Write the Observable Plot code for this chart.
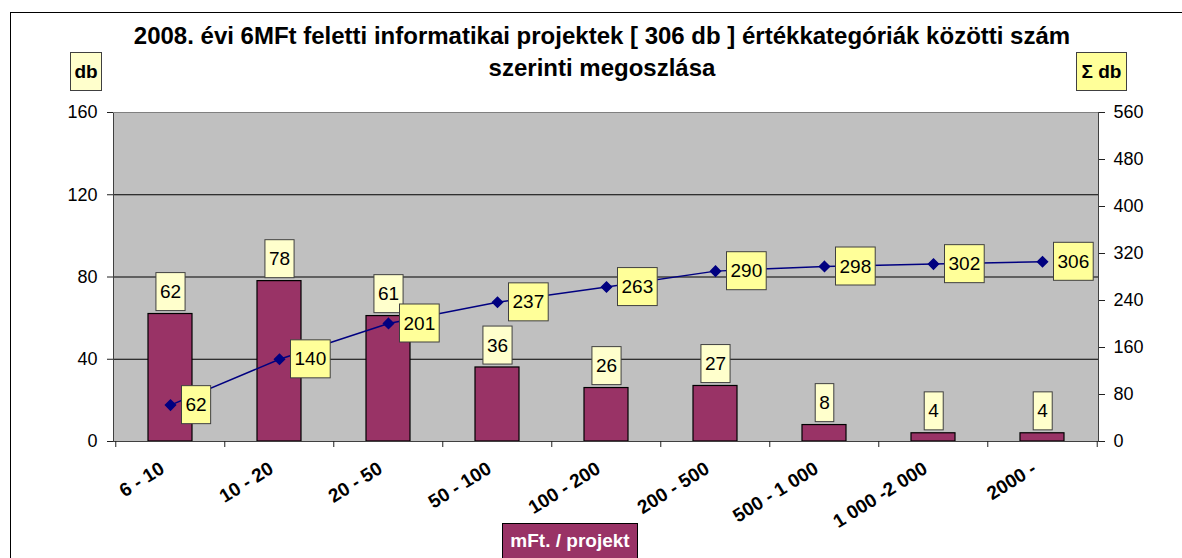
<!DOCTYPE html>
<html>
<head>
<meta charset="utf-8">
<script src="https://cdn.jsdelivr.net/npm/d3@7"></script>
<script src="https://cdn.jsdelivr.net/npm/@observablehq/plot@0.6"></script>
<style>
  html, body { margin: 0; padding: 0; background: #fff; }
  #wrap { position: relative; width: 1182px; height: 558px; overflow: hidden; font-family: "Liberation Sans", Arial, sans-serif; }
  #outer { position: absolute; left: 10px; top: 12px; width: 1300px; height: 700px; border-left: 1px solid #000; border-top: 1px solid #000; }
  #title { position: absolute; left: 0; width: 1204px; top: 20px; text-align: center; font-weight: bold; font-size: 24px; line-height: 32px; color: #000; }
  .box { position: absolute; box-sizing: border-box; border: 1px solid #404040; font-weight: bold; font-size: 19px; display: flex; align-items: center; justify-content: center; }
  #plot { position: absolute; left: 0; top: 0; }
</style>
</head>
<body>
<div id="wrap">
  <div id="outer"></div>
  <div id="plot"></div>
  <div id="title">2008. évi 6MFt feletti informatikai projektek [ 306 db ] értékkategóriák közötti szám<br>szerinti megoszlása</div>
  <div class="box" style="left:70px;top:52px;width:32px;height:39px;background:#FFFFCC;">db</div>
  <div class="box" style="left:1076px;top:52px;width:51px;height:39px;background:#FFFF99;">Σ db</div>
  <div class="box" style="left:502px;top:523px;width:136px;height:40px;background:#993366;color:#fff;border-color:#000;padding-bottom:4px;">mFt. / projekt</div>
</div>
<script>
const categories = ["6 - 10", "10 - 20", "20 - 50", "50 - 100", "100 - 200", "200 - 500", "500 - 1 000", "1 000 -2 000", "2000 -"];
const counts = [62, 78, 61, 36, 26, 27, 8, 4, 4];
const cumulative = [62, 140, 201, 237, 263, 290, 298, 302, 306];
const leftTicks = [0, 40, 80, 120, 160];
const rightTicks = [0, 80, 160, 240, 320, 400, 480, 560];

const leftMax = 160, rightMax = 560;
const k = leftMax / rightMax;
const data = categories.map((c, i) => ({cat: c, n: counts[i], cum: cumulative[i], cumY: cumulative[i] * k}));

const W = 1182, H = 558, ML = 113, MR = 84, MT = 112, MB = 117;
const step = (W - ML - MR) / categories.length;
const font = "Liberation Sans, Arial, sans-serif";

const chart = Plot.plot({
  width: W, height: H,
  marginLeft: ML, marginRight: MR, marginTop: MT, marginBottom: MB,
  style: {fontFamily: font, fontSize: "18px", background: "transparent", overflow: "visible"},
  x: {domain: categories, paddingInner: 0.6, paddingOuter: 0.3, axis: null},
  y: {domain: [0, leftMax], axis: null},
  marks: [
    Plot.frame({fill: "#C0C0C0"}),
    Plot.ruleY([40, 80, 120], {stroke: "#000", strokeWidth: 1}),
    Plot.barY(data, {x: "cat", y: "n", fill: "#993366", stroke: "#000", strokeWidth: 1.2}),
    Plot.text(data, {x: "cat", y: "n", text: d => String(d.n), dy: -22, lineAnchor: "middle", fontSize: 19, fill: "#000", className: "lblbar"}),
    Plot.line(data, {x: "cat", y: "cumY", stroke: "#000080", strokeWidth: 1.5}),
    Plot.dot(data, {x: "cat", y: "cumY", symbol: "diamond2", r: 4.5, fill: "#000080", stroke: "#000080"}),
    Plot.text(data, {x: "cat", y: "cumY", text: d => String(d.cum), dx: 15, textAnchor: "start", lineAnchor: "middle", fontSize: 19, fill: "#000", className: "lblcum"}),
    Plot.ruleY([0], {stroke: "#202020", strokeWidth: 1.2}),
    Plot.frame({stroke: "#404040", strokeWidth: 1, fill: "none"}),
    Plot.ruleY([leftMax], {stroke: "#808080", strokeWidth: 1}),
    Plot.axisY({anchor: "left", ticks: leftTicks, tickSize: 6, tickPadding: 10, fontSize: 18, label: null, stroke: "#202020"}),
    Plot.axisY({anchor: "right", ticks: rightTicks.map(v => v * k), tickFormat: v => String(Math.round(v / k)), tickSize: 6, tickPadding: 9, fontSize: 18, label: null, stroke: "#202020"}),
    Plot.axisX({ticks: categories, tickFormat: () => "", tickSize: 6, dx: -step / 2, label: null, stroke: "#202020"}),
    Plot.axisX({ticks: categories.slice(-1), tickFormat: () => "", tickSize: 6, dx: step / 2, label: null, stroke: "#202020"}),
    Plot.text(categories, {x: d => d, frameAnchor: "bottom", dx: -12, dy: 19, rotate: -32, textAnchor: "end", lineAnchor: "top", fontSize: 19, fontWeight: "bold", fill: "#000"})
  ]
});

document.getElementById("plot").appendChild(chart);

function boxes(cls, fill) {
  chart.querySelectorAll("g." + cls + " text").forEach(t => {
    const bb = t.getBBox();
    const cy = bb.y + bb.height / 2;
    const r = document.createElementNS("http://www.w3.org/2000/svg", "rect");
    r.setAttribute("x", bb.x - 4);
    r.setAttribute("y", cy - 19);
    r.setAttribute("width", bb.width + 8);
    r.setAttribute("height", 38);
    r.setAttribute("fill", fill);
    r.setAttribute("stroke", "#404040");
    r.setAttribute("stroke-width", 1);
    if (t.getAttribute("transform")) r.setAttribute("transform", t.getAttribute("transform"));
    t.parentNode.insertBefore(r, t);
  });
}
boxes("lblbar", "#FFFFCC");
boxes("lblcum", "#FFFF99");
</script>
</body>
</html>
